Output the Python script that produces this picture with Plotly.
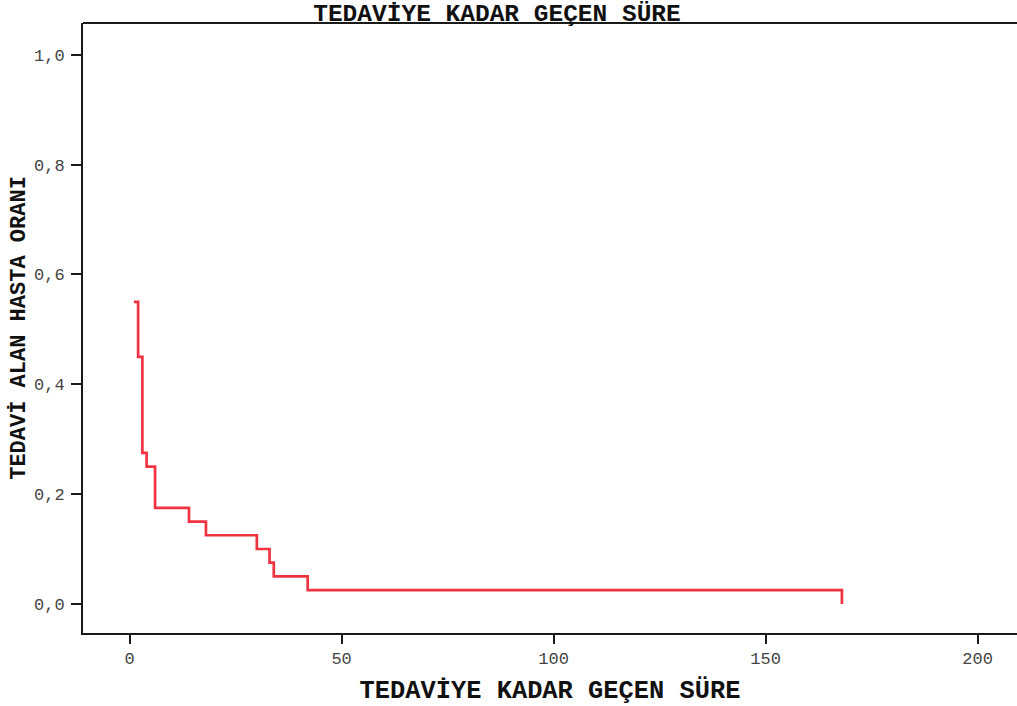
import plotly.graph_objects as go

# Kaplan-Meier style step data: time to treatment vs. proportion still untreated
times = [1, 2, 3, 4, 6, 14, 18, 30, 33, 34, 42, 168]
proportion = [0.55, 0.45, 0.275, 0.25, 0.175, 0.15, 0.125, 0.10, 0.075, 0.05, 0.025, 0.0]

x_ticks = [0, 50, 100, 150, 200]
y_ticks = [0.0, 0.2, 0.4, 0.6, 0.8, 1.0]

title_text = "TEDAVİYE KADAR GEÇEN SÜRE"
x_title = "TEDAVİYE KADAR GEÇEN SÜRE"
y_title = "TEDAVİ ALAN HASTA ORANI"

mono = "Courier New, Nimbus Mono PS, FreeMono, Liberation Mono, monospace"
axis_color = "#1a1a1a"

fig = go.Figure()
fig.add_trace(go.Scatter(
    x=times,
    y=proportion,
    mode="lines",
    line=dict(color="#EF3340", width=2.7, shape="hv"),
    showlegend=False,
    hoverinfo="x+y",
))

fig.update_layout(
    width=1017,
    height=706,
    margin=dict(l=83, r=0, t=23, b=73),
    paper_bgcolor="white",
    plot_bgcolor="white",
    separators=", ",
    title=dict(
        text=f"<b>{title_text}</b>",
        font=dict(family=mono, size=24.5, color="#111"),
        x=497 / 1017, xref="container", xanchor="center",
        y=1 - 12.5 / 706, yref="container", yanchor="middle",
    ),
    xaxis=dict(
        range=[-11, 209.3],
        tickvals=x_ticks,
        ticks="outside", ticklen=9, tickwidth=2, tickcolor=axis_color,
        showline=True, linewidth=2, linecolor=axis_color,
        showgrid=False, zeroline=False,
        tickfont=dict(family=mono, size=17, color="#444"),
        title=dict(text=f"<b>{x_title}</b>", font=dict(family=mono, size=25.4, color="#111"), standoff=16),
    ),
    yaxis=dict(
        range=[-0.053, 1.058],
        tickvals=y_ticks,
        tickformat=".1f",
        ticks="outside", ticklen=10, tickwidth=2, tickcolor=axis_color,
        ticklabelstandoff=3,
        showline=True, linewidth=2, linecolor=axis_color,
        showgrid=False, zeroline=False,
        tickfont=dict(family=mono, size=17, color="#444"),
        title=dict(text=f"<b>{y_title}</b>", font=dict(family=mono, size=22, color="#111"), standoff=2),
    ),
    shapes=[dict(
        type="line", xref="paper", yref="paper",
        x0=0, x1=1, y0=1, y1=1,
        line=dict(color=axis_color, width=2),
    )],
)

fig.write_html("out.html")
